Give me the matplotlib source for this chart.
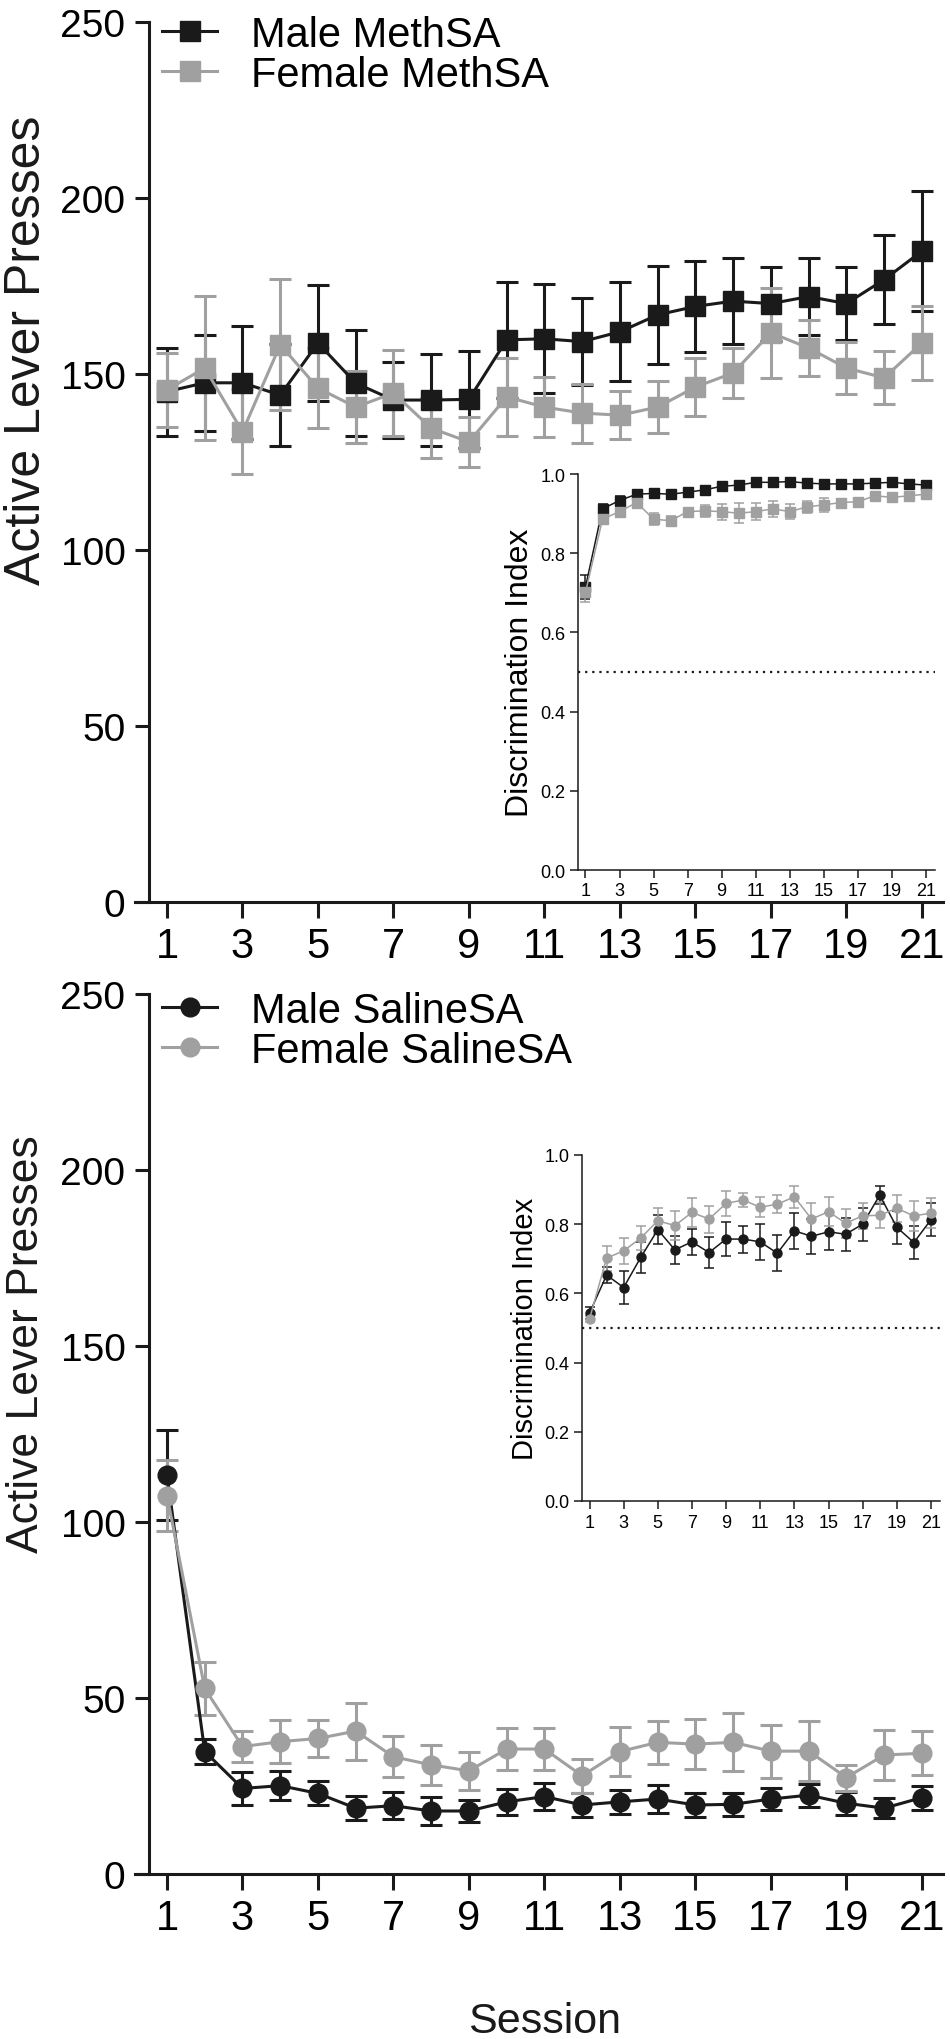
import matplotlib
matplotlib.use("Agg")
import matplotlib.pyplot as plt
from matplotlib.lines import Line2D
import numpy as np

plt.rcParams['font.family'] = ['Liberation Sans', 'DejaVu Sans']

# ---- data ----
sessions = np.arange(1, 22)
tick_sessions = np.arange(1, 22, 2)

# Meth self-administration, active lever presses (mean, SEM)
male_meth = [145, 147.5, 147.5, 144, 158.8, 147.4, 142.6, 142.6, 142.8, 159.7, 160,
             159.2, 162, 166.8, 169.2, 170.7, 170, 172, 170, 176.8, 184.9]
male_meth_sem = [12.5, 13.7, 16, 14.5, 16.5, 15, 10.7, 13, 13.8, 16.5, 15.5,
                 12.3, 14, 14, 13, 12.3, 10.5, 11, 10.3, 12.7, 17]
female_meth = [145.5, 151.7, 133.6, 158.3, 146, 140.6, 144.6, 134.6, 130.7, 143.5, 140.6,
               138.9, 138.3, 140.6, 146.3, 150.3, 161.7, 157.4, 151.7, 148.9, 158.8]
female_meth_sem = [10.5, 20.5, 12, 18.6, 11.4, 10.3, 12.2, 8.6, 7, 11, 8.5,
                   8.4, 6.8, 7.5, 8.2, 7, 12.7, 8, 7.4, 7.5, 10.5]

# Meth discrimination index
male_meth_di = [0.715, 0.912, 0.933, 0.949, 0.951, 0.949, 0.954, 0.960, 0.969, 0.972, 0.979,
                0.979, 0.981, 0.977, 0.975, 0.975, 0.975, 0.977, 0.979, 0.975, 0.972]
male_meth_di_sem = [0.03, 0.012, 0.012, 0.006, 0.005, 0.005, 0.005, 0.005, 0.005, 0.005, 0.005,
                    0.005, 0.005, 0.005, 0.005, 0.005, 0.005, 0.005, 0.005, 0.005, 0.005]
female_meth_di = [0.701, 0.886, 0.905, 0.928, 0.886, 0.882, 0.905, 0.907, 0.905, 0.901, 0.905,
                  0.912, 0.905, 0.917, 0.922, 0.928, 0.930, 0.945, 0.941, 0.945, 0.949]
female_meth_di_sem = [0.025, 0.01, 0.008, 0.012, 0.015, 0.012, 0.01, 0.015, 0.02, 0.025, 0.022,
                      0.02, 0.018, 0.015, 0.018, 0.01, 0.008, 0.008, 0.01, 0.01, 0.008]

# Saline self-administration, active lever presses (mean, SEM)
male_saline = [113.4, 34.8, 24.3, 25.1, 22.9, 18.7, 19.4, 17.9, 17.9, 20.5, 22,
               19.6, 20.5, 21.3, 19.6, 19.8, 21.3, 22.4, 20.1, 18.7, 21.7]
male_saline_sem = [12.8, 3.6, 4.6, 4.2, 3.4, 3.4, 3.8, 4, 3.2, 3.6, 3.8,
                   3.3, 3.5, 4, 3.5, 3.2, 3, 3.3, 3.3, 2.8, 3.4]
female_saline = [107.5, 52.7, 36.2, 37.6, 38.5, 40.6, 33.3, 31, 29.3, 35.5, 35.5,
                 27.9, 34.8, 37.4, 36.9, 37.4, 34.9, 34.9, 27.4, 33.8, 34.3]
female_saline_sem = [10, 7.6, 4.5, 6.1, 5.3, 8.1, 5.8, 5.7, 5.4, 6, 6,
                     4.8, 7, 6.2, 7, 8.2, 7.5, 8.5, 3.7, 7, 6.3]

# Saline discrimination index
male_saline_di = [0.543, 0.653, 0.617, 0.704, 0.784, 0.726, 0.749, 0.718, 0.757, 0.757, 0.749,
                  0.716, 0.781, 0.765, 0.778, 0.771, 0.800, 0.884, 0.791, 0.747, 0.813]
male_saline_di_sem = [0.018, 0.024, 0.047, 0.044, 0.042, 0.041, 0.037, 0.045, 0.05, 0.039, 0.052,
                      0.052, 0.052, 0.05, 0.054, 0.048, 0.048, 0.027, 0.047, 0.047, 0.048]
female_saline_di = [0.526, 0.702, 0.723, 0.760, 0.810, 0.796, 0.834, 0.815, 0.860, 0.870, 0.849,
                    0.858, 0.879, 0.815, 0.836, 0.803, 0.824, 0.826, 0.846, 0.824, 0.832]
female_saline_di_sem = [0.01, 0.036, 0.038, 0.036, 0.038, 0.043, 0.042, 0.039, 0.036, 0.02, 0.029,
                        0.026, 0.032, 0.046, 0.042, 0.042, 0.037, 0.037, 0.039, 0.043, 0.043]

BLACK = '#1a1a1a'
GRAY = '#a0a0a0'
W, H = 950, 2040

fig = plt.figure(figsize=(W / 100, H / 100), dpi=100)


def px_axes(left, top, right, bottom):
    return fig.add_axes([left / W, 1 - bottom / H, (right - left) / W, (bottom - top) / H])


def style_main(ax):
    ax.set_xlim(0.152, 21.56)
    ax.set_ylim(0, 250)
    ax.spines['left'].set_position(('data', 0.523))
    ax.spines[['top', 'right']].set_visible(False)
    for s in ['left', 'bottom']:
        ax.spines[s].set_linewidth(2.2)
        ax.spines[s].set_color(BLACK)
    ax.set_xticks(tick_sessions)
    ax.set_yticks(np.arange(0, 251, 50))
    ax.tick_params(axis='y', length=10, width=2.2, labelsize=28, pad=7, color=BLACK)
    ax.tick_params(axis='x', length=11.5, width=2.2, labelsize=30, pad=6, color=BLACK)
    ax.patch.set_alpha(0)


def style_inset(ax, lab_size):
    ax.set_xlim(0.56, 21.53)
    ax.set_ylim(0, 1.0)
    ax.spines[['top', 'right']].set_visible(False)
    for s in ['left', 'bottom']:
        ax.spines[s].set_linewidth(1.1)
        ax.spines[s].set_color(BLACK)
    ax.set_xticks(tick_sessions)
    ax.set_yticks(np.arange(0, 1.01, 0.2))
    ax.set_yticklabels([f'{v:.1f}' for v in np.arange(0, 1.01, 0.2)])
    ax.tick_params(length=6, width=1.1, labelsize=13, pad=3, color=BLACK)
    ax.axhline(0.5, color=BLACK, lw=1.6, ls=(0, (1, 2.2)), zorder=1)
    ax.set_ylabel('Discrimination Index', fontsize=lab_size, labelpad=4)
    ax.patch.set_alpha(0)


def draw(ax, y, err, color, marker, ms, lw, cap):
    ax.errorbar(sessions, y, yerr=err, color=color, ecolor=color, marker=marker,
                ms=ms, lw=lw, elinewidth=lw, capsize=cap, capthick=lw,
                clip_on=False)


# ---- top panel: Meth ----
ax1 = px_axes(135, 23, 943, 903)
style_main(ax1)
draw(ax1, male_meth, male_meth_sem, BLACK, 's', 14.5, 2.2, 8)
draw(ax1, female_meth, female_meth_sem, GRAY, 's', 14.5, 2.2, 8)
h1 = [Line2D([], [], color=BLACK, marker='s', ms=14.5, lw=2.2),
      Line2D([], [], color=GRAY, marker='s', ms=14.5, lw=2.2)]
ax1.legend(h1, ['Male MethSA', 'Female MethSA'], loc='upper left',
           bbox_to_anchor=(162 / W, 1 - 16 / H), bbox_transform=fig.transFigure,
           frameon=False, fontsize=30, handlelength=1.33, handletextpad=0.8,
           labelspacing=0.0, borderpad=0, borderaxespad=0)

ins1 = px_axes(578, 475, 935, 871)
style_inset(ins1, 23)
draw(ins1, male_meth_di, male_meth_di_sem, BLACK, 's', 6.5, 1.1, 3.5)
draw(ins1, female_meth_di, female_meth_di_sem, GRAY, 's', 6.5, 1.1, 3.5)

# ---- bottom panel: Saline ----
ax2 = px_axes(135, 995, 943, 1875)
style_main(ax2)
draw(ax2, male_saline, male_saline_sem, BLACK, 'o', 13.5, 2.2, 8)
draw(ax2, female_saline, female_saline_sem, GRAY, 'o', 13.5, 2.2, 8)
h2 = [Line2D([], [], color=BLACK, marker='o', ms=13.5, lw=2.2),
      Line2D([], [], color=GRAY, marker='o', ms=13.5, lw=2.2)]
ax2.legend(h2, ['Male SalineSA', 'Female SalineSA'], loc='upper left',
           bbox_to_anchor=(162 / W, 1 - 992 / H), bbox_transform=fig.transFigure,
           frameon=False, fontsize=30, handlelength=1.33, handletextpad=0.8,
           labelspacing=0.0, borderpad=0, borderaxespad=0)

ins2 = px_axes(582, 1156, 940, 1502)
style_inset(ins2, 21)
draw(ins2, male_saline_di, male_saline_di_sem, BLACK, 'o', 6.5, 1.1, 3.5)
draw(ins2, female_saline_di, female_saline_di_sem, GRAY, 'o', 6.5, 1.1, 3.5)

# axis titles
fig.text(27 / W, 1 - 350 / H, 'Active Lever Presses', rotation=90,
         ha='center', va='center', fontsize=36, color=BLACK)
fig.text(27 / W, 1 - 1344 / H, 'Active Lever Presses', rotation=90,
         ha='center', va='center', fontsize=32, color=BLACK)
fig.text(545 / W, 1 - 2033 / H, 'Session', ha='center', va='baseline',
         fontsize=31, color=BLACK)

fig.savefig('out.png', dpi=100)
